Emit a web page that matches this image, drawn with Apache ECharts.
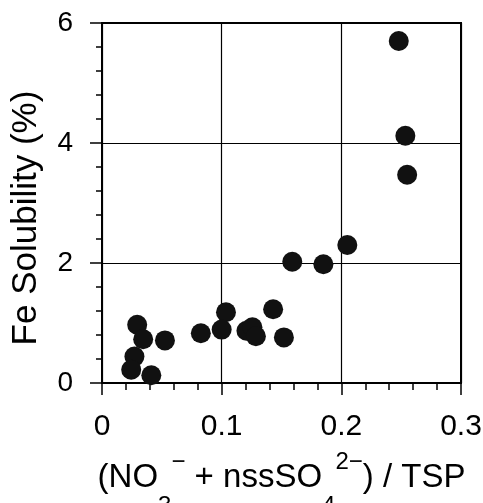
<!DOCTYPE html>
<html>
<head>
<meta charset="utf-8">
<script src="https://cdn.jsdelivr.net/npm/echarts@6/dist/echarts.min.js"></script>
<style>
html,body{margin:0;padding:0;background:#fff;}
#chart{width:483px;height:503px;}
</style>
</head>
<body>
<div id="chart"></div>
<script>
const ratio = [0.248,0.2535,0.255,0.205,0.159,0.185,0.143,0.152,0.1036,0.100,0.0826,0.1207,0.1257,0.1286,0.0526,0.0294,0.0344,0.0271,0.0244,0.0412];
const feSolubility = [5.70,4.12,3.47,2.30,2.02,1.98,1.23,0.76,1.18,0.89,0.83,0.87,0.93,0.78,0.71,0.97,0.73,0.44,0.22,0.13];
const xTicks = [0, 0.1, 0.2, 0.3];
const yTicks = [0, 2, 4, 6];
const xTitle = '(NO{sub|3}{sup|−} + nssSO{sub|4}{sup|2−}) / TSP';
const yTitle = 'Fe Solubility (%)';

const points = ratio.map((x, i) => [x, feSolubility[i]]);
const font = 'Liberation Sans, Arial, sans-serif';
const chart = echarts.init(document.getElementById('chart'), null, {renderer: 'canvas'});
chart.setOption({
  backgroundColor: '#fff',
  animation: false,
  grid: {left: 102, right: 22, top: 23, bottom: 120, show: true, borderColor: '#000', borderWidth: 2,
    backgroundColor: 'transparent', containLabel: false, outerBoundsMode: 'none'},
  xAxis: {
    type: 'value', min: xTicks[0], max: xTicks[xTicks.length - 1], interval: 0.1,
    axisLine: {lineStyle: {color: '#000', width: 2}},
    axisTick: {show: true, length: 12, lineStyle: {color: '#000', width: 1.5}},
    minorTick: {show: true, splitNumber: 5, length: 7, lineStyle: {color: '#000', width: 1.5}},
    splitLine: {show: true, lineStyle: {color: '#000', width: 1.2}},
    axisLabel: {color: '#000', fontSize: 30, fontFamily: font, margin: 29,
      formatter: v => String(+v.toFixed(1))},
    name: xTitle, nameLocation: 'middle', nameGap: 55, nameMoveOverlap: false,
    nameTextStyle: {
      color: '#000', fontSize: 33, fontFamily: font, lineHeight: 80,
      rich: {
        sub: {fontSize: 24, fontFamily: font, color: '#000', lineHeight: 24, verticalAlign: 'bottom'},
        sup: {fontSize: 24, fontFamily: font, color: '#000', lineHeight: 24, padding: [12, 0, 0, 0], verticalAlign: 'top'}
      }
    }
  },
  yAxis: {
    type: 'value', min: yTicks[0], max: yTicks[yTicks.length - 1], interval: 2,
    axisLine: {lineStyle: {color: '#000', width: 2}},
    axisTick: {show: true, length: 12, lineStyle: {color: '#000', width: 1.5}},
    minorTick: {show: true, splitNumber: 5, length: 6, lineStyle: {color: '#000', width: 1.5}},
    splitLine: {show: true, lineStyle: {color: '#000', width: 1.2}},
    axisLabel: {color: '#000', fontSize: 28, fontFamily: font, margin: 29},
    name: yTitle, nameLocation: 'middle', nameGap: 58, nameMoveOverlap: false,
    nameTextStyle: {color: '#000', fontSize: 35, fontFamily: font, padding: [0, 30, 0, 0]}
  },
  series: [{
    type: 'scatter', data: points, symbol: 'circle', symbolSize: 20,
    itemStyle: {color: '#111', opacity: 1}
  }]
});
</script>
</body>
</html>
